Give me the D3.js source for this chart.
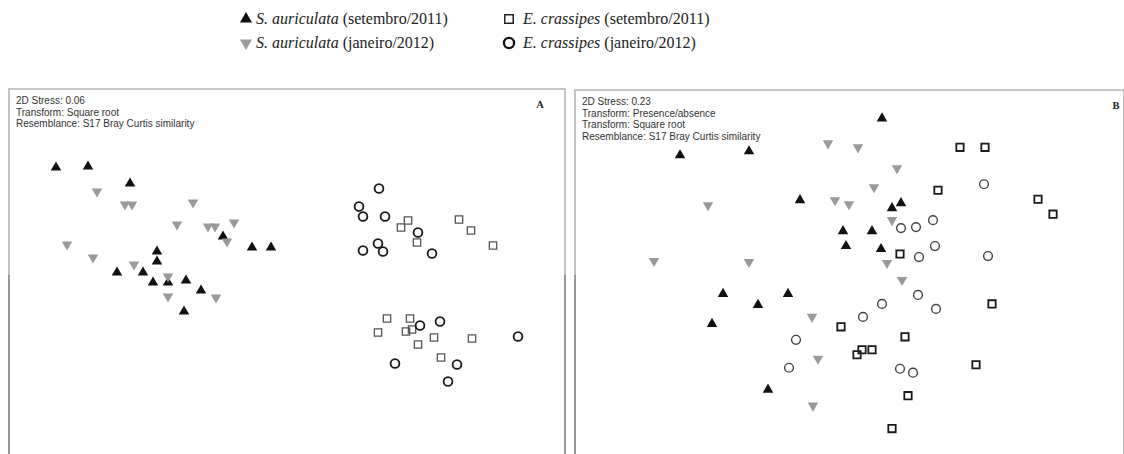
<!DOCTYPE html>
<html>
<head>
<meta charset="utf-8">
<script src="https://cdn.jsdelivr.net/npm/d3@7"></script>
<style>
  body { margin: 0; background: #fff; }
  svg { display: block; }
</style>
</head>
<body>
<div id="chart"></div>
<script>
// NMDS coordinates (axis units, y up)
// Panel A
const aTriSet = [[-2.31,1.04],[-1.99,1.05],[-1.57,0.88],[-1.30,0.20],[-1.30,0.10],[-1.70,-0.01],[-1.44,-0.01],
  [-1.34,-0.11],[-1.19,-0.11],[-1.01,-0.09],[-0.86,-0.19],[-1.03,-0.40],[-0.64,0.35],[-0.35,0.24],[-0.16,0.24]];
const aTriJan = [[-1.90,0.80],[-1.62,0.67],[-1.55,0.67],[-0.94,0.69],[-1.10,0.47],[-0.79,0.45],[-0.72,0.45],
  [-0.53,0.49],[-0.60,0.30],[-2.20,0.27],[-1.94,0.14],[-1.53,0.07],[-1.19,-0.05],[-1.19,-0.25],[-0.71,-0.26]];
const aSqSet = [[1.21,0.51],[1.14,0.44],[1.30,0.29],[1.72,0.52],[1.84,0.41],[2.06,0.26],[1.00,-0.47],[1.23,-0.47],
  [0.91,-0.61],[1.19,-0.60],[1.25,-0.58],[1.31,-0.73],[1.47,-0.66],[1.85,-0.67],[1.54,-0.86]];
const aCircJan = [[0.92,0.83],[0.72,0.65],[0.76,0.55],[0.98,0.55],[1.31,0.39],[0.91,0.28],[0.96,0.20],[0.76,0.21],
  [1.45,0.18],[1.33,-0.54],[1.53,-0.50],[2.31,-0.65],[1.08,-0.92],[1.70,-0.93],[1.61,-1.10]];

// Panel B
const bTriSet = [[-1.70,1.17],[-1.01,1.21],[-0.50,0.72],[-0.07,0.41],[-0.04,0.26],[-1.27,-0.22],[-0.92,-0.33],
  [-0.62,-0.22],[-1.38,-0.52],[-0.82,-1.18],[0.32,1.54],[0.51,0.69],[0.42,0.64],[0.22,0.41],[0.31,0.23]];
const bTriJan = [[-0.22,1.29],[-1.42,0.67],[-0.15,0.72],[-0.01,0.68],[-1.96,0.11],[-1.01,0.10],[-0.38,-0.45],
  [-0.32,-0.87],[-0.37,-1.34],[0.08,1.25],[0.47,1.04],[0.24,0.85],[0.42,0.52],[0.37,0.09],[0.52,-0.08]];
const bSqSet = [[1.10,1.25],[1.35,1.25],[0.88,0.82],[1.88,0.73],[2.03,0.58],[0.50,0.18],[1.42,-0.32],[-0.09,-0.55],
  [0.55,-0.65],[0.12,-0.78],[0.07,-0.83],[0.22,-0.78],[1.26,-0.93],[0.58,-1.24],[0.42,-1.57]];
const bCircJan = [[1.34,0.88],[0.83,0.52],[0.51,0.44],[0.66,0.45],[0.85,0.26],[0.69,0.15],[1.38,0.16],[0.68,-0.23],
  [0.32,-0.32],[0.86,-0.37],[0.13,-0.45],[0.50,-0.97],[0.63,-1.01],[-0.54,-0.68],[-0.61,-0.96]];

// Legend and notes
const legendSpecies = ["S. auriculata", "S. auriculata", "E. crassipes", "E. crassipes"];
const legendDates = ["(setembro/2011)", "(janeiro/2012)", "(setembro/2011)", "(janeiro/2012)"];
const legendKeys = ["triSet", "triJan", "sqSet", "circJan"];
const notesA = ["2D Stress: 0.06", "Transform: Square root", "Resemblance: S17 Bray Curtis similarity"];
const notesB = ["2D Stress: 0.23", "Transform: Presence/absence", "Transform: Square root",
  "Resemblance: S17 Bray Curtis similarity"];

const W = 1124, H = 454;
const svg = d3.select("#chart").append("svg").attr("width", W).attr("height", H);

// symbol drawers
const triPath = d3.symbol().type(d3.symbolTriangle).size(48)();
const sqPath = d3.symbol().type(d3.symbolSquare).size(54)();

function drawMarks(g, key, pts, x, y, st) {
  const sel = g.append("g").selectAll("path,circle").data(pts).enter();
  if (key === "triSet") {
    sel.append("path").attr("d", triPath).attr("fill", "#111")
      .attr("transform", d => `translate(${x(d[0])},${y(d[1])})`);
  } else if (key === "triJan") {
    sel.append("path").attr("d", triPath).attr("fill", "#9a9a9a")
      .attr("transform", d => `translate(${x(d[0])},${y(d[1])}) rotate(180)`);
  } else if (key === "sqSet") {
    sel.append("path").attr("d", sqPath).attr("fill", "none")
      .attr("stroke", st.sq[0]).attr("stroke-width", st.sq[1])
      .attr("transform", d => `translate(${x(d[0])},${y(d[1])})`);
  } else {
    sel.append("circle").attr("r", 4.4).attr("fill", "none")
      .attr("stroke", st.circ[0]).attr("stroke-width", st.circ[1])
      .attr("cx", d => x(d[0])).attr("cy", d => y(d[1]));
  }
}

function drawPanel(opts) {
  const g = svg.append("g");
  const x = d3.scaleLinear().domain(opts.xDomain).range([opts.left, opts.right]);
  const y = d3.scaleLinear().domain([-1.825, 1.825]).range([H, opts.top]);

  // frame (open at the bottom, cut by the page edge)
  g.append("path")
    .attr("d", `M${opts.left},${H} V${opts.top} H${opts.right} V${H}`)
    .attr("fill", "none").attr("stroke", "#b4b4b4").attr("stroke-width", 1.6);
  g.selectAll("line.dark").data(opts.darkEdges).enter().append("line")
    .attr("x1", d => d).attr("x2", d => d).attr("y1", 275).attr("y2", H)
    .attr("stroke", "#8c8c8c").attr("stroke-width", 1.6);

  g.selectAll("text.note").data(opts.notes).enter().append("text")
    .attr("x", opts.left + 7).attr("y", (d, i) => opts.top + 15 + i * 11.7)
    .attr("font-family", "Liberation Sans, Arial, sans-serif").attr("font-size", 10)
    .attr("fill", "#333").text(d => d);

  g.append("text").attr("x", opts.labelX).attr("y", opts.top + 19)
    .attr("text-anchor", "middle")
    .attr("font-family", "Liberation Serif, Times New Roman, serif").attr("font-weight", "bold")
    .attr("font-size", 10.5).attr("fill", "#222").text(opts.label);

  opts.series.forEach((pts, i) => drawMarks(g, legendKeys[i], pts, x, y, opts.style));
}

drawPanel({
  left: 9, right: 565, top: 89, xDomain: [-2.78, 2.78], darkEdges: [9, 565],
  notes: notesA, label: "A", labelX: 540,
  series: [aTriSet, aTriJan, aSqSet, aCircJan],
  style: { sq: ["#555", 1.3], circ: ["#1a1a1a", 1.8] }
});
drawPanel({
  left: 575, right: 1124, top: 90, xDomain: [-2.75, 2.74], darkEdges: [575],
  notes: notesB, label: "B", labelX: 1116,
  series: [bTriSet, bTriJan, bSqSet, bCircJan],
  style: { sq: ["#1a1a1a", 1.8], circ: ["#444", 1.4] }
});

// legend, two columns by two rows
const legend = svg.append("g");
const colX = [246, 509], rowY = [19, 43];
const legendStyle = { sq: ["#222", 1.3], circ: ["#111", 2] };
legendKeys.forEach((k, i) => {
  const cx = colX[Math.floor(i / 2)], cy = rowY[i % 2];
  const lx = d3.scaleLinear().domain([0, 1]).range([cx, cx + 1]);
  const ly = d3.scaleLinear().domain([0, 1]).range([cy, cy - 1]);
  const big = legend.append("g").attr("transform", `translate(${cx},${cy}) scale(1.15) translate(${-cx},${-cy})`);
  drawMarks(big, k, [[0, 0]], lx, ly, legendStyle);
  const t = legend.append("text").attr("x", cx + (i < 2 ? 10 : 14)).attr("y", cy + 5)
    .attr("font-family", "Liberation Serif, Times New Roman, serif").attr("font-size", 16)
    .attr("fill", "#222");
  t.append("tspan").attr("font-style", "italic").text(legendSpecies[i]);
  t.append("tspan").text(" " + legendDates[i]);
});
</script>
</body>
</html>
